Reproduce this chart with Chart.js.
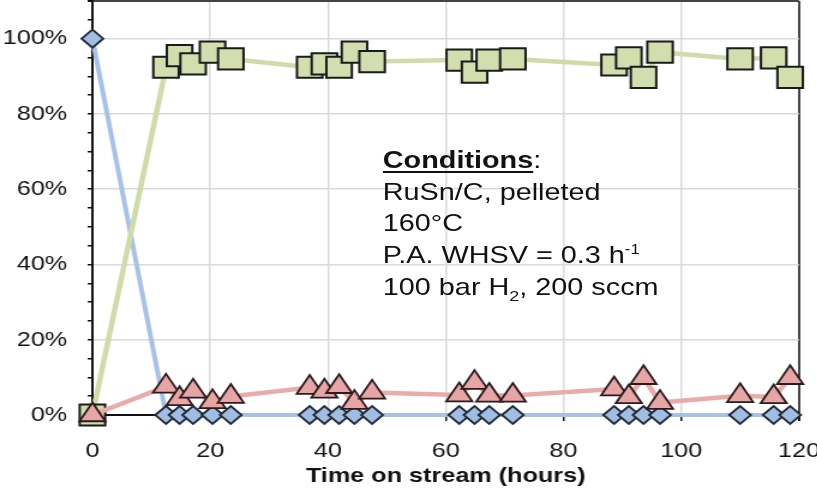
<!DOCTYPE html>
<html lang="en">
<head>
<meta charset="UTF-8">
<title>Time on stream</title>
<script src="https://cdn.jsdelivr.net/npm/chart.js"></script>
<style>
  html, body { margin: 0; padding: 0; background: #fff; overflow: hidden; }
  body { width: 817px; height: 498px; position: relative; }
  /* the source picture is stretched sideways, so the whole chart is too */
  .wrap {
    position: absolute; left: 0; top: 0;
    width: 700px; height: 498px;
    transform: scaleX(1.2); transform-origin: 0 0;
  }
  .note {
    position: absolute; left: 319px; top: 144px;
    font-family: "Liberation Sans", Arial, sans-serif;
    font-size: 24px; line-height: 31.7px; color: #111;
    white-space: nowrap;
  }
  .note u { font-weight: bold; text-decoration-thickness: 2px; text-underline-offset: 3px; }
  .note .sup { font-size: 14px; position: relative; top: -9px; line-height: 0; }
  .note .sub { font-size: 15px; position: relative; top: 6px; line-height: 0; }
</style>
</head>
<body>
<div class="wrap">
  <canvas id="chart"></canvas>
  <div class="note">
    <div><u>Conditions</u>:</div>
    <div>RuSn/C, pelleted</div>
    <div>160°C</div>
    <div>P.A. WHSV = 0.3 h<span class="sup">-1</span></div>
    <div>100 bar H<span class="sub">2</span>, 200 sccm</div>
  </div>
</div>
<script>
// time on stream (h), shared by all three series
const hours = [0, 12.5, 14.8, 17.1, 20.4, 23.5, 36.9, 39.4, 41.9, 44.5, 47.5,
               62.3, 64.9, 67.4, 71.4, 88.6, 91.1, 93.6, 96.4, 110, 115.7, 118.5];
// squares (green)
const squareVals = [0, 92.4, 95.5, 93.3, 96.4, 94.6, 92.4, 93.3, 92.4, 96.4, 93.9,
                    94.3, 91.1, 94.3, 94.6, 93.0, 94.9, 89.7, 96.4, 94.6, 94.9, 89.7];
// diamonds (blue)
const diamondVals = [100, 0, 0, 0, 0, 0, 0, 0, 0, 0, 0,
                     0, 0, 0, 0, 0, 0, 0, 0, 0, 0, 0];
// triangles (red)
const triangleVals = [0, 7.6, 4.3, 6.3, 3.5, 4.9, 7.3, 6.3, 7.5, 3.3, 6.0,
                      5.3, 8.6, 5.2, 5.2, 6.9, 4.8, 9.9, 3.3, 5.1, 4.8, 9.9];

const xLabels = [0, 20, 40, 60, 80, 100, 120];
const yLabels = [0, 20, 40, 60, 80, 100];

function pts(vals) {
    return hours.map((h, i) => ({ x: h, y: vals[i] }));
}

const gridGray = '#dadada';
const clear = 'rgba(0,0,0,0)';

new Chart(document.getElementById('chart'), {
    type: 'scatter',
    data: {
        datasets: [
            {
                data: pts(triangleVals),
                showLine: true,
                clip: false,
                borderColor: '#eaabab',
                borderWidth: 4.5,
                pointStyle: 'triangle',
                pointRadius: 12.5,
                pointBackgroundColor: '#e8a5a6',
                pointBorderColor: '#2a1c1c',
                pointBorderWidth: 1.8
            },
            {
                data: pts(squareVals),
                showLine: true,
                clip: false,
                borderColor: '#cfdba8',
                borderWidth: 4.5,
                pointStyle: 'rect',
                pointRadius: 15,
                pointBackgroundColor: '#d3deaf',
                pointBorderColor: '#1a1a1a',
                pointBorderWidth: 2
            },
            {
                data: pts(diamondVals),
                showLine: true,
                clip: false,
                borderColor: '#a7c2e6',
                borderWidth: 4,
                pointStyle: 'rectRot',
                pointRadius: 9,
                pointBackgroundColor: '#a0bde3',
                pointBorderColor: '#1f2a36',
                pointBorderWidth: 1.8
            }
        ]
    },
    options: {
        responsive: true,
        maintainAspectRatio: false,
        animation: false,
        layout: { autoPadding: false, padding: { top: 1, right: 34.2, left: 0, bottom: 0 } },
        plugins: { legend: { display: false }, tooltip: { enabled: false } },
        scales: {
            x: {
                type: 'linear',
                min: 0,
                max: 120,
                afterFit: s => { s.height = 83; s.paddingLeft = 0; s.paddingRight = 0; },
                afterBuildTicks: s => { s.ticks = xLabels.map(v => ({ value: v })); },
                ticks: {
                    autoSkip: false,
                    maxRotation: 0,
                    padding: 18,
                    color: '#111',
                    font: { family: '"Liberation Sans", Arial, sans-serif', size: 21 }
                },
                grid: {
                    color: c => c.tick.value === 120 ? '#444' : (c.tick.value === 0 ? clear : gridGray),
                    lineWidth: c => c.tick.value === 120 ? 2 : 1.5,
                    tickColor: '#111',
                    tickLength: 6
                },
                border: { color: '#111', width: 2 },
                title: {
                    display: true,
                    text: 'Time on stream (hours)',
                    color: '#111',
                    padding: { top: 0, bottom: 9 },
                    font: { family: '"Liberation Sans", Arial, sans-serif', size: 21, weight: 'bold' }
                }
            },
            y: {
                min: 0,
                max: 110,
                afterFit: s => { s.width = 77; s.paddingTop = 0; s.paddingBottom = 0; },
                ticks: {
                    stepSize: 5,
                    maxTicksLimit: 50,
                    autoSkip: false,
                    padding: 17,
                    color: '#111',
                    font: { family: '"Liberation Sans", Arial, sans-serif', size: 21 },
                    callback: v => yLabels.includes(v) ? v + '%' : ''
                },
                grid: {
                    color: c => c.tick.value === 110 ? '#444'
                        : (c.tick.value > 0 && yLabels.includes(c.tick.value) ? gridGray : clear),
                    lineWidth: c => c.tick.value === 110 ? 2 : 1.5,
                    tickColor: '#111',
                    tickLength: 4
                },
                border: { color: '#111', width: 2 }
            }
        }
    }
});
</script>
</body>
</html>
